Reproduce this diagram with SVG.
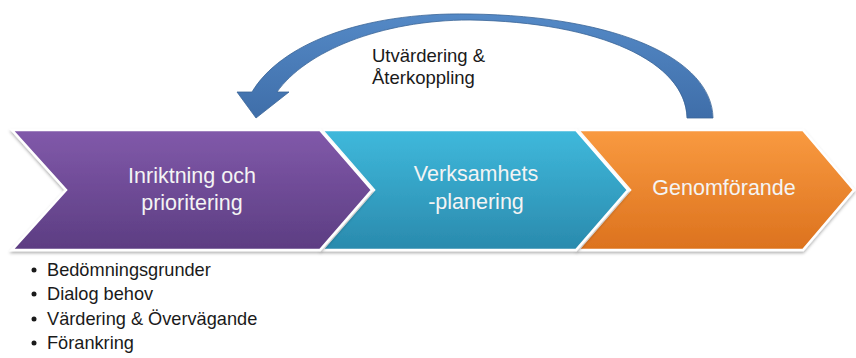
<svg xmlns="http://www.w3.org/2000/svg" width="856" height="358" viewBox="0 0 856 358">
<defs>
<linearGradient id="gP" x1="0" y1="0" x2="0" y2="1"><stop offset="0" stop-color="#8159aa"/><stop offset="1" stop-color="#5c3d82"/></linearGradient>
<linearGradient id="gC" x1="0" y1="0" x2="0" y2="1"><stop offset="0" stop-color="#3fb9dc"/><stop offset="1" stop-color="#2a8aad"/></linearGradient>
<linearGradient id="gO" x1="0" y1="0" x2="0" y2="1"><stop offset="0" stop-color="#f99a40"/><stop offset="1" stop-color="#dc721e"/></linearGradient>
<linearGradient id="gA" x1="0" y1="0" x2="0" y2="1"><stop offset="0" stop-color="#5489c6"/><stop offset="1" stop-color="#3f6ea9"/></linearGradient>
<filter id="sh" x="-5%" y="-10%" width="110%" height="125%"><feDropShadow dx="0" dy="2" stdDeviation="1.5" flood-color="#000" flood-opacity="0.3"/></filter>
</defs>
<style>
.chev{stroke:#fff;stroke-width:2.5;stroke-linejoin:miter;filter:url(#sh)}
.bt{font-family:"Liberation Sans",Arial,sans-serif;font-size:21.5px;fill:#f4f4f4;text-anchor:middle}
.lb{font-family:"Liberation Sans",Arial,sans-serif;font-size:18.5px;fill:#1a1a1a}
.bl{font-family:"Liberation Sans",Arial,sans-serif;font-size:18.2px;fill:#1a1a1a}
</style>
<g id="connectors">
<path d="M713,118 C712,60 620,16 470,14 C360,12 280,45 252,92 L237,92 L256,118 L289,92 L277,92 C305,52 380,20 470,20 C600,22 686,62 687,118 Z" fill="url(#gA)" stroke="#3a6497" stroke-width="0.8"/>
<text class="lb" x="372" y="62">Utvärdering &amp;</text>
<text class="lb" x="372" y="84">Återkoppling</text>
</g>
<g id="node-genomforande">
<polygon class="chev" points="578,130 803,130 854,190 803,250 578,250 630,190" fill="url(#gO)"/>
<text class="bt" x="724" y="195">Genomförande</text>
</g>
<g id="node-verksamhetsplanering">
<polygon class="chev" points="322,130 576,130 628,190 576,250 322,250 374,190" fill="url(#gC)"/>
<text class="bt" x="476" y="181">Verksamhets</text>
<text class="bt" x="476" y="209">-planering</text>
</g>
<g id="node-inriktning">
<polygon class="chev" points="12,130 320,130 372,190 320,250 12,250 66,190" fill="url(#gP)"/>
<text class="bt" x="192" y="183">Inriktning och</text>
<text class="bt" x="192" y="210">prioritering</text>
</g>
<g id="bullets">
<circle cx="34" cy="270" r="2.5" fill="#1a1a1a"/>
<text class="bl" x="47" y="276">Bedömningsgrunder</text>
<circle cx="34" cy="294" r="2.5" fill="#1a1a1a"/>
<text class="bl" x="47" y="300">Dialog behov</text>
<circle cx="34" cy="319" r="2.5" fill="#1a1a1a"/>
<text class="bl" x="47" y="325">Värdering &amp; Övervägande</text>
<circle cx="34" cy="343" r="2.5" fill="#1a1a1a"/>
<text class="bl" x="47" y="349">Förankring</text>
</g>
</svg>
